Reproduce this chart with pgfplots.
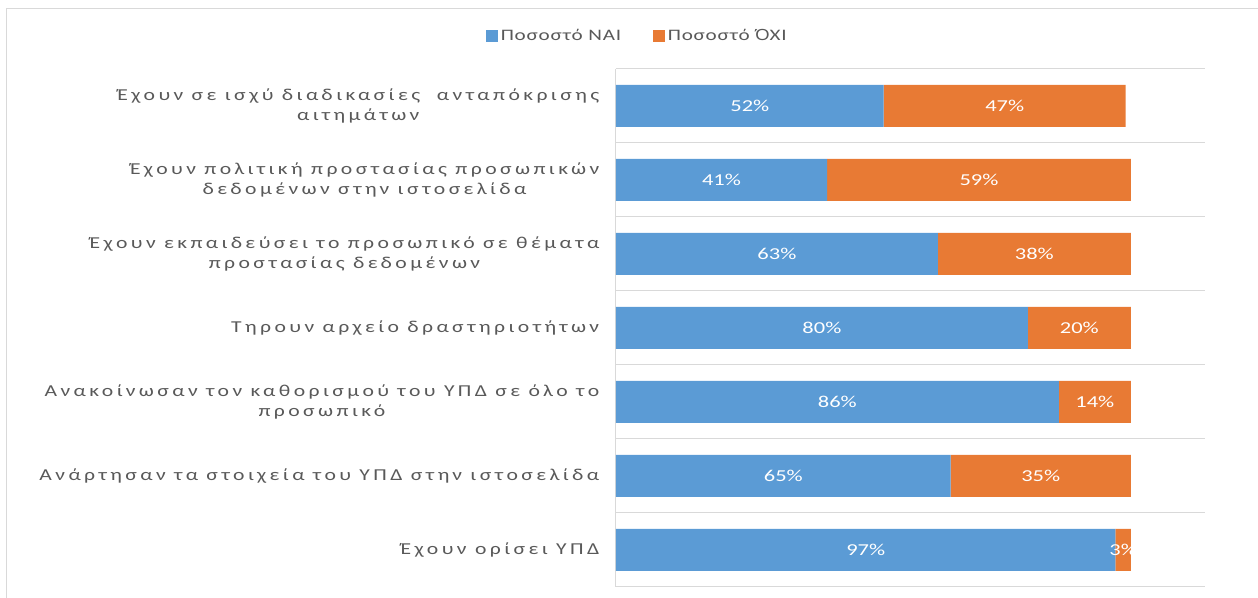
\documentclass[border=0pt]{standalone}
\usepackage{pgfplots}
\pgfplotsset{compat=1.18}
\usepackage{pgfplotstable}
\usepackage{fontspec}
\setmainfont{Carlito}
\newfontfamily\labfont[LetterSpace=20.5,FakeStretch=1.3]{Carlito}
\newfontfamily\wfont[FakeStretch=1.35]{Carlito}
\newfontfamily\legfont[FakeStretch=1.32,LetterSpace=5]{Carlito}
\newfontfamily\accfont[FakeStretch=1.15]{Liberation Sans}
\definecolor{nai}{RGB}{91,155,213}
\definecolor{oxi}{RGB}{232,122,52}
\definecolor{txt}{RGB}{89,89,89}
\definecolor{grd}{RGB}{217,217,217}
\pgfplotstableread{
y nai oxi nl ol
0 97 3 97 3
1 65 35 65 35
2 86 14 86 14
3 80 20 80 20
4 62.5 37.5 63 38
5 41 59 41 59
6 52 47 52 47
}\data
\begin{document}
\begin{tikzpicture}
\begin{axis}[
  scale only axis, width=441.75pt, height=388.5pt,
  xbar stacked, bar width=31.5pt,
  xmin=0, xmax=114.4, ymin=-0.5, ymax=6.5,
  axis x line=none, axis y line*=left,
  axis line style={grd, line width=0.75pt},
  ytick={0,...,6}, major tick length=0, minor tick length=0,
  minor ytick={-0.5,0.5,...,6.5}, yminorgrids,
  minor grid style={grd, line width=0.75pt},
  yticklabel style={font=\labfont\fontsize{12.5}{14.5}\selectfont, text=txt, align=center, xshift=-9pt},
  yticklabels={
    {Έχουν ορίσει ΥΠΔ},
    {Ανάρτησαν τα στοιχεία του ΥΠΔ στην ιστοσελίδα},
    {Ανακοίνωσαν τον καθορισμού του ΥΠΔ σε όλο το\\προσωπικό},
    {Τηρουν αρχείο δραστηριοτήτων},
    {Έχουν εκπαιδεύσει το προσωπικό σε θέματα\\προστασίας δεδομένων},
    {Έχουν πολιτική προστασίας προσωπικών\\δεδομένων στην ιστοσελίδα},
    {Έχουν σε ισχύ διαδικασίες\ \ ανταπόκρισης\\αιτημάτων}},
  legend columns=2,
  legend style={draw=none, at={(0.037,1.064)}, anchor=center,
    font=\legfont\fontsize{12}{14}\selectfont, text=txt,
    /tikz/every even column/.append style={column sep=22pt}},
  legend image code/.code={\fill[#1] (0pt,-4.5pt) rectangle (9pt,4.5pt);},
  every node near coord/.append style={anchor=center, text=white, font=\wfont\fontsize{12.5}{14}\selectfont},
]
\addplot[fill=nai, draw=none, point meta=explicit symbolic,
  nodes near coords={\pgfplotspointmeta\%}]
  table[x=nai, y=y, meta=nl]{\data};
\addlegendentry{Ποσοστό ΝΑΙ}
\addplot[fill=oxi, draw=none, point meta=explicit symbolic,
  nodes near coords={\pgfplotspointmeta\%}]
  table[x=oxi, y=y, meta=ol]{\data};
\addlegendentry{Ποσοστό {\accfont Ό}ΧΙ}
\end{axis}
\draw[grd, line width=0.75pt] (-456.75pt,-8.25pt) -- (-456.75pt,433.5pt) -- (481.5pt,433.5pt);
\pgfresetboundingbox
\path[use as bounding box] (-462pt,-8.25pt) rectangle (481.5pt,440.25pt);
\end{tikzpicture}
\end{document}
